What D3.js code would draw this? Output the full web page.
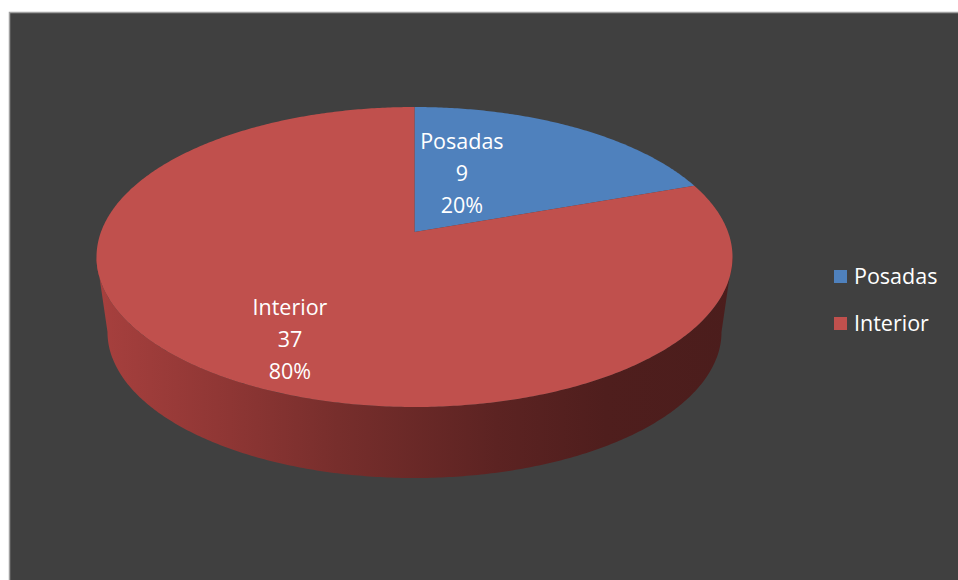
<!DOCTYPE html>
<html>
<head>
<meta charset="utf-8">
<script src="https://cdn.jsdelivr.net/npm/d3@7"></script>
<style>
  html, body { margin: 0; padding: 0; background: #ffffff; }
  svg { display: block; }
  text { font-family: "Open Sans", "Noto Sans", sans-serif; }
</style>
</head>
<body>
<svg id="chart" width="958" height="580"></svg>
<script>
// Data
const categories = ["Posadas", "Interior"];
const values = [9, 37];
const colors = ["#4f81bd", "#c0504d"];

// Layout
const W = 958, H = 580;
const panel = { x: 9.5, y: 12.5 };
// top rim of the disc and bottom rim (slightly smaller: perspective)
const topRim = { cx: 414.5, cy: 257, rx: 318, ry: 150 };
const botRim = { cx: 414.5, cy: 332, rx: 307, ry: 146 };
const persp = -0.1667;               // shift of the disc centre toward the far side
const sq = Math.sqrt(1 - persp * persp);
// label anchors inside each slice: angle (deg, clockwise from 12 o'clock) and radius fraction
const labelAnchors = [{ a: 20.5, r: 0.463 }, { a: 208.4, r: 0.744 }];
const lineGap = 32;
const fontSize = 21.5;

const svg = d3.select("#chart");

// Dark chart area with a light edge
svg.append("rect")
  .attr("x", panel.x).attr("y", panel.y)
  .attr("width", W).attr("height", H)
  .attr("fill", "#404040")
  .attr("stroke", "#a0a0a0").attr("stroke-width", 1.5);

// perspective projection of a point on the unit disc (angle clockwise from top)
function project(rim, theta, r) {
  const u = r * Math.sin(theta), v = -r * Math.cos(theta);
  const d = 1 + persp * v;
  return [rim.cx + rim.rx * u * sq / d, rim.cy + rim.ry * (v + persp) / d];
}

const pie = d3.pie().sort(null).value(d => d.value)
  .startAngle(0).endAngle(2 * Math.PI);
const data = categories.map((c, i) => ({ name: c, value: values[i], color: colors[i] }));
const arcs = pie(data);
const total = d3.sum(values);
const pctFmt = d3.format(".0%");

function rimPoints(rim, a0, a1) {
  const n = Math.max(2, Math.ceil(Math.abs(a1 - a0) / 0.01));
  return d3.range(n + 1).map(k => project(rim, a0 + (a1 - a0) * k / n, 1));
}
const line = d3.line();

// Side wall gradient (lit from the left)
const defs = svg.append("defs");
function sideGradient(id, base) {
  const g = defs.append("linearGradient").attr("id", id)
    .attr("gradientUnits", "userSpaceOnUse")
    .attr("x1", topRim.cx - topRim.rx).attr("x2", topRim.cx + topRim.rx)
    .attr("y1", 0).attr("y2", 0);
  const stops = [[0, 0.87], [0.21, 0.74], [0.38, 0.62], [0.63, 0.48], [0.8, 0.41], [1, 0.39]];
  stops.forEach(([o, k]) => {
    const rgb = d3.rgb(base);
    g.append("stop").attr("offset", o)
      .attr("stop-color", d3.rgb(rgb.r * k, rgb.g * k * 0.92, rgb.b * k * 0.92).formatHex());
  });
  return `url(#${id})`;
}

// visible front wall: between the two silhouette angles
const silA = Math.acos(persp);            // right-hand silhouette
const silB = 2 * Math.PI - silA;          // left-hand silhouette
arcs.forEach((a, i) => {
  const s = Math.max(a.startAngle, silA), e = Math.min(a.endAngle, silB);
  if (e <= s) return;
  const pts = rimPoints(topRim, s, e).concat(rimPoints(botRim, e, s));
  svg.append("path")
    .attr("d", line(pts) + "Z")
    .attr("fill", sideGradient("side" + i, a.data.color));
});

// top faces
arcs.forEach(a => {
  const pts = [project(topRim, 0, 0)].concat(rimPoints(topRim, a.startAngle, a.endAngle));
  svg.append("path")
    .attr("d", line(pts) + "Z")
    .attr("fill", a.data.color);
});

// data labels: name, value, percentage
arcs.forEach((a, i) => {
  const la = labelAnchors[i];
  const [x, y] = project(topRim, la.a * Math.PI / 180, la.r);
  const lines = [a.data.name, String(a.data.value), pctFmt(a.data.value / total)];
  const t = svg.append("text")
    .attr("x", x).attr("y", y)
    .attr("text-anchor", "middle")
    .attr("fill", "#ffffff")
    .attr("font-size", fontSize);
  lines.forEach((s, k) => {
    t.append("tspan").attr("x", x)
      .attr("y", y + (k - 1) * lineGap + fontSize * 0.36)
      .text(s);
  });
});

// legend
const legend = { x: 834, y: 270, gap: 47, box: 13 };
const lg = svg.append("g");
data.forEach((d, i) => {
  const gy = legend.y + i * legend.gap;
  lg.append("rect").attr("x", legend.x).attr("y", gy)
    .attr("width", legend.box).attr("height", legend.box)
    .attr("fill", d.color);
  lg.append("text").attr("x", legend.x + 20).attr("y", gy + 14)
    .attr("fill", "#ffffff").attr("font-size", fontSize)
    .text(d.name);
});
</script>
</body>
</html>
